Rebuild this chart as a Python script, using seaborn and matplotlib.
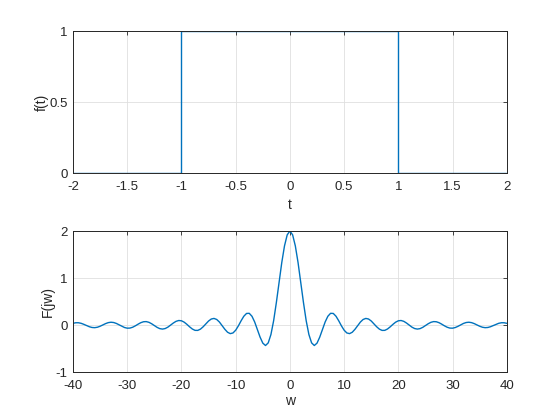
import numpy as np
import pandas as pd
import matplotlib
matplotlib.use('Agg')
import matplotlib.pyplot as plt
import seaborn as sns

# rectangular pulse f(t)
t_vals = [-2.0, -1.0, -1.0, 1.0, 1.0, 2.0]
f_vals = [0.0, 0.0, 1.0, 1.0, 0.0, 0.0]

# spectrum F(jw), read at w = 0, 0.5, ..., 40 (curve is symmetric about w = 0)
w_pos = [i * 0.5 for i in range(81)]
F_pos = [2.0, 1.9177, 1.6829, 1.3300, 0.9093, 0.4788, 0.0941, -0.2004, -0.3784, -0.4345,
         -0.3836, -0.2565, -0.0931, 0.0662, 0.1877, 0.2501, 0.2473, 0.1879, 0.0916, -0.0158,
         -0.1088, -0.1676, -0.1818, -0.1523, -0.0894, -0.0106, 0.0646, 0.1191, 0.1415, 0.1290,
         0.0867, 0.0266, -0.0360, -0.0863, -0.1131, -0.1120, -0.0834, -0.0370, 0.0158, 0.0621,
         0.0913, 0.0973, 0.0797, 0.0439, -0.0008, -0.0433, -0.0736, -0.0850, -0.0755, -0.0483,
         -0.0106, 0.0282, 0.0587, 0.0740, 0.0708, 0.0508, 0.0194, -0.0157, -0.0458, -0.0638,
         -0.0659, -0.0520, -0.0261, 0.0053, 0.0345, 0.0544, 0.0606, 0.0520, 0.0311, 0.0033,
         -0.0245, -0.0456, -0.0551, -0.0510, -0.0348, -0.0105, 0.0156, 0.0373, 0.0494, 0.0495,
         0.0373]

top_xticks = [-2, -1.5, -1, -0.5, 0, 0.5, 1, 1.5, 2]
top_yticks = [0, 0.5, 1]
bot_xticks = [-40, -30, -20, -10, 0, 10, 20, 30, 40]
bot_yticks = [-1, 0, 1, 2]

sns.set_style('white')
plt.rcParams['font.family'] = ['Liberation Sans', 'DejaVu Sans']
plt.rcParams['font.size'] = 9.5

line_color = '#0072BD'
axis_color = '#262626'

pulse = pd.DataFrame({'t': t_vals, 'f': f_vals})
w_all = [-w for w in w_pos[:0:-1]] + w_pos
F_all = F_pos[:0:-1] + F_pos
spec = pd.DataFrame({'w': w_all, 'F': F_all})

fig = plt.figure(figsize=(5.6, 4.2), dpi=100)
ax1 = fig.add_axes([0.1304, 0.588, 0.7746, 0.338])
ax2 = fig.add_axes([0.1304, 0.114, 0.7746, 0.336])

sns.lineplot(data=pulse, x='t', y='f', ax=ax1, color=line_color, lw=1.0, sort=False, estimator=None)
sns.lineplot(data=spec, x='w', y='F', ax=ax2, color=line_color, lw=1.0, sort=False, estimator=None)


def matlab_style(ax, xticks, yticks, xlim, ylim, xlabel, ylabel, xpad, ylab_x):
    ax.set_xlim(xlim)
    ax.set_ylim(ylim)
    ax.set_xticks(xticks)
    ax.set_yticks(yticks)
    ax.set_xticklabels([f'{v:g}' for v in xticks])
    ax.set_yticklabels([f'{v:g}' for v in yticks])
    ax.grid(True, color='#dfdfdf', lw=0.6)
    ax.set_axisbelow(True)
    for s in ax.spines.values():
        s.set_visible(True)
        s.set_color(axis_color)
        s.set_linewidth(0.7)
    ax.tick_params(direction='in', length=3, width=0.6, colors=axis_color,
                   labelsize=9.5, top=True, right=True)
    ax.tick_params(axis='x', pad=5.5)
    ax.tick_params(axis='y', pad=4)
    ax.tick_params(labeltop=False, labelright=False)
    ax.set_xlabel(xlabel, fontsize=10, color=axis_color, labelpad=xpad)
    ax.set_ylabel(ylabel, fontsize=10, color=axis_color)
    ax.yaxis.set_label_coords(ylab_x, 0.5)


matlab_style(ax1, top_xticks, top_yticks, (-2, 2), (0, 1), 't', 'f(t)', 4.0, -0.057)
matlab_style(ax2, bot_xticks, bot_yticks, (-40, 40), (-1, 2), 'w', 'F(jw)', 1.5, -0.041)

fig.savefig('out.png', dpi=100, facecolor='white')
